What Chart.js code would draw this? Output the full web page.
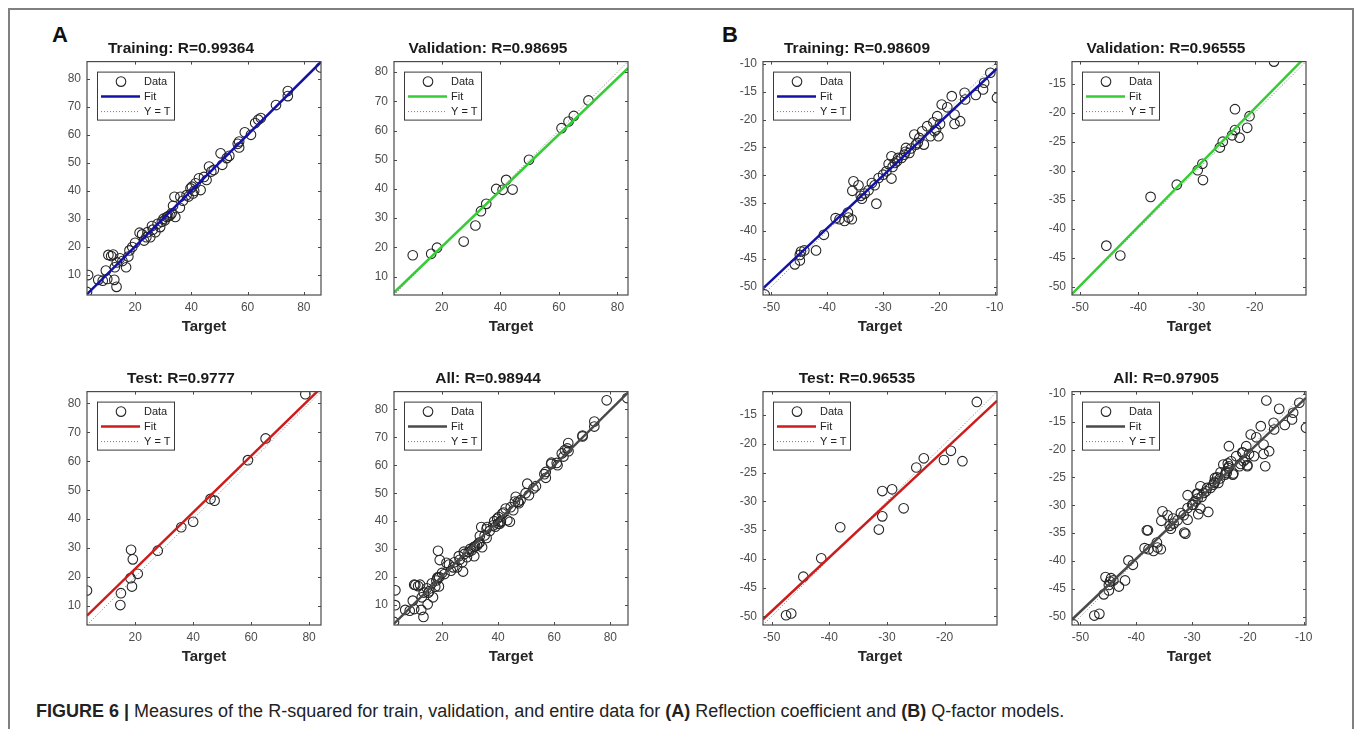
<!DOCTYPE html>
<html>
<head>
<meta charset="utf-8">
<script src="https://cdn.jsdelivr.net/npm/chart.js@4.4.1/dist/chart.umd.min.js"></script>
<style>
  html,body{margin:0;padding:0;background:#fff;}
  body{width:1357px;height:729px;overflow:hidden;position:relative;font-family:"Liberation Sans",Arial,sans-serif;}
  #frame{position:absolute;left:8px;top:8px;width:1342px;height:740px;border:2px solid #808080;border-bottom:none;}
  .plabel{position:absolute;font-weight:bold;font-size:22px;line-height:22px;color:#111;}
  #caption{position:absolute;left:36px;top:701px;font-family:"Liberation Sans Narrow","Liberation Sans",Arial,sans-serif;font-size:18px;color:#222;white-space:nowrap;}
  canvas{position:absolute;}
</style>
</head>
<body>
<div id="frame"></div>
<div class="plabel" style="left:52px;top:24px;">A</div>
<div class="plabel" style="left:722px;top:24px;">B</div>
<div id="caption"><b>FIGURE 6 |</b> Measures of the R-squared for train, validation, and entire data for <b>(A)</b> Reflection coefficient and <b>(B)</b> Q-factor models.</div>
<script>
// ---------------- DATA ----------------
// (A) Reflection coefficient model
const aTrainTarget = [2.9,3.3,6.9,8.5,10.1,12.6,13.4,9.6,10.5,12.2,11.5,12.8,14.6,13.5,16.8,17.6,18.0,19.0,20.0,21.6,23.2,22.5,24.0,24.4,25.4,26.3,26.0,27.2,28.0,28.9,29.5,30.1,30.5,31.3,31.8,32.5,33.0,33.5,34.3,35.9,34.0,36.1,37.0,38.3,39.0,39.7,40.2,40.6,41.0,41.5,42.7,43.3,44.5,45.4,46.3,47.1,48.0,50.4,51.0,52.6,53.5,56.5,57.0,57.0,59.0,61.2,62.7,63.8,64.7,70.1,74.3,74.3,86.0,15.5];
const aTrainOutput = [4.0,10.0,8.3,8.0,8.6,8.3,5.8,11.6,17.2,17.3,16.8,12.8,16.0,14.5,12.8,16.6,18.8,20.0,21.5,25.1,22.3,24.5,23.5,25.3,23.5,26.2,27.5,25.3,28.3,27.1,29.0,30.1,29.5,30.7,31.0,31.3,32.0,34.7,30.7,34.0,37.9,37.9,36.5,38.5,38.0,40.9,41.5,39.1,40.0,42.7,44.5,40.3,45.0,43.9,48.7,46.9,47.5,53.4,49.3,51.7,52.5,56.8,57.6,55.5,60.9,60.0,64.2,65.4,66.0,70.6,75.6,73.8,84.0,15.0];
const aValTarget = [10.1,16.4,18.4,27.5,31.5,33.4,35.2,38.6,40.8,42.0,44.2,49.8,60.9,63.3,65.1,70.1];
const aValOutput = [17.3,17.8,19.9,22.0,27.5,32.4,34.9,40.0,39.7,43.1,39.8,50.0,60.8,63.1,65.0,70.3];
const aTestTarget = [3.4,15.1,14.9,18.6,19.2,18.4,18.9,20.9,27.8,35.9,40.0,46.0,47.4,58.9,65.0,78.7];
const aTestOutput = [15.3,14.4,10.3,29.4,26.1,19.6,16.7,21.1,29.1,37.2,39.1,47.0,46.4,60.4,67.9,83.2];

// (B) Q-factor model
const bTrainTarget = [-51.2,-45.8,-44.9,-44.9,-44.7,-44.1,-42.0,-40.6,-38.5,-37.8,-36.9,-36.2,-35.6,-36.3,-35.5,-35.3,-34.4,-34.0,-33.8,-33.3,-32.6,-32.0,-31.5,-31.2,-30.8,-30.0,-29.4,-29.0,-28.5,-28.3,-28.5,-27.9,-27.5,-27.3,-26.7,-26.2,-26.0,-25.9,-25.3,-25.0,-24.4,-24.1,-23.8,-23.5,-23.0,-22.7,-22.1,-21.5,-21.0,-20.8,-20.5,-20.3,-20.1,-19.8,-19.5,-18.5,-17.7,-17.2,-17.2,-16.2,-15.4,-15.3,-13.4,-12.1,-11.9,-10.8,-9.6];
const bTrainOutput = [-51.4,-46.0,-44.3,-45.3,-43.7,-43.5,-43.5,-40.7,-37.7,-37.9,-38.2,-37.6,-37.9,-36.7,-32.8,-31.1,-31.8,-33.7,-34.2,-33.3,-32.7,-31.4,-31.8,-35.1,-30.5,-29.9,-29.3,-28.0,-30.6,-28.5,-26.6,-27.8,-27.5,-26.9,-26.9,-26.3,-25.8,-25.1,-26.0,-25.2,-22.7,-24.5,-24.2,-23.3,-22.1,-24.5,-21.2,-23.0,-20.5,-22.1,-21.8,-19.4,-23.0,-20.8,-17.3,-17.8,-15.8,-19.1,-20.8,-20.3,-15.2,-16.4,-15.6,-14.6,-13.4,-11.6,-16.1];
const bValTarget = [-16.7,-45.5,-43.1,-37.9,-33.4,-29.8,-29.0,-28.9,-26.0,-25.5,-23.9,-23.4,-23.4,-22.6,-21.3,-20.9];
const bValOutput = [-11.2,-42.9,-44.6,-34.5,-32.4,-29.9,-28.8,-31.6,-26.0,-25.0,-23.9,-23.0,-19.4,-24.3,-22.6,-20.6];
const bTestTarget = [-14.4,-47.5,-46.6,-44.5,-41.4,-38.1,-31.4,-30.8,-30.8,-29.1,-27.1,-24.9,-23.6,-20.1,-18.9,-16.9];
const bTestOutput = [-12.7,-49.8,-49.5,-43.1,-39.9,-34.5,-34.9,-32.6,-28.2,-27.9,-31.2,-24.1,-22.5,-22.8,-21.2,-23.0];

// panel order: A train, A val, A test, A all, B train, B val, B test, B all
const panelTitles = ['Training: R=0.99364','Validation: R=0.98695','Test: R=0.9777','All: R=0.98944',
                     'Training: R=0.98609','Validation: R=0.96555','Test: R=0.96535','All: R=0.97905'];
const axisMin = [2.9, 3.7, 3.4, 2.9, -51.5, -51.4, -51.5, -51.5];
const axisMax = [86.1, 83.6, 84.1, 86.3, -9.6, -11.2, -10.9, -9.6];
const fitSlope = [0.995, 0.961, 0.976, 0.99, 0.942, 1.018, 0.936, 0.95];
const fitIntercept = [0.3, 1.0, 3.3, 0.5, -1.8, 1.1, -2.3, -1.6];

const aTicks = [10,20,30,40,50,60,70,80];
const aXTicks = [20,40,60,80];
const bTicksFull = [-50,-45,-40,-35,-30,-25,-20,-15,-10];
const bTicksShort = [-50,-45,-40,-35,-30,-25,-20,-15];
const bXTicksFull = [-50,-40,-30,-20,-10];
const bXTicksShort = [-50,-40,-30,-20];

// ---------------- PANEL SETUP ----------------
const aAllTarget = aTrainTarget.concat(aValTarget, aTestTarget);
const aAllOutput = aTrainOutput.concat(aValOutput, aTestOutput);
const bAllTarget = bTrainTarget.concat(bValTarget, bTestTarget);
const bAllOutput = bTrainOutput.concat(bValOutput, bTestOutput);

const targets = [aTrainTarget, aValTarget, aTestTarget, aAllTarget, bTrainTarget, bValTarget, bTestTarget, bAllTarget];
const outputs = [aTrainOutput, aValOutput, aTestOutput, aAllOutput, bTrainOutput, bValOutput, bTestOutput, bAllOutput];
const xTickSets = [aXTicks, aXTicks, aXTicks, aXTicks, bXTicksFull, bXTicksShort, bXTicksShort, bXTicksFull];
const yTickSets = [aTicks, aTicks, aTicks, aTicks, bTicksFull, bTicksShort, bTicksShort, bTicksFull];

const fitColors = ['#1212a8','#35cc35','#cc1c1c','#4a4a4a','#1212a8','#35cc35','#cc1c1c','#4a4a4a'];
const boxLeft = [87, 394, 87, 394, 763, 1072, 763, 1072];
const boxTop  = [61, 61, 391, 391, 61, 61, 391, 391];
const BOX = 234, SIDE = 46, TOPPAD = 30, BOTPAD = 45;

const FONT = '"Liberation Sans", Arial, sans-serif';
const AXIS_COLOR = '#4a4a4a';

const matlabAxes = {
  id: 'matlabAxes',
  afterDatasetsDraw(chart) {
    const {ctx, chartArea: {left, right, top, bottom}, scales: {x, y}} = chart;
    ctx.save();
    ctx.strokeStyle = AXIS_COLOR;
    ctx.lineWidth = 1.2;
    ctx.strokeRect(left, top, right - left, bottom - top);
    ctx.lineWidth = 1;
    ctx.beginPath();
    x.ticks.forEach(t => {
      const px = Math.round(x.getPixelForValue(t.value)) + 0.5;
      ctx.moveTo(px, bottom); ctx.lineTo(px, bottom - 3);
      ctx.moveTo(px, top); ctx.lineTo(px, top + 3);
    });
    y.ticks.forEach(t => {
      const py = Math.round(y.getPixelForValue(t.value)) + 0.5;
      ctx.moveTo(left, py); ctx.lineTo(left + 3, py);
      ctx.moveTo(right, py); ctx.lineTo(right - 3, py);
    });
    ctx.stroke();
    // legend
    const ds = chart.data.datasets;
    const lx = left + 10, ly = top + 10, lw = 77, lh = 48;
    ctx.fillStyle = '#fff';
    ctx.fillRect(lx, ly, lw, lh);
    ctx.strokeStyle = '#3a3a3a';
    ctx.lineWidth = 1;
    ctx.strokeRect(lx + 0.5, ly + 0.5, lw, lh);
    ctx.font = '11px ' + FONT;
    ctx.textBaseline = 'middle';
    ctx.fillStyle = '#222';
    const rows = [ly + 10, ly + 25, ly + 40];
    ctx.beginPath();
    ctx.strokeStyle = ds[0].borderColor;
    ctx.lineWidth = ds[0].pointBorderWidth;
    ctx.arc(lx + 24, rows[0], ds[0].pointRadius, 0, Math.PI * 2);
    ctx.stroke();
    ctx.fillText(ds[0].label, lx + 47, rows[0] + 0.5);
    ctx.beginPath();
    ctx.strokeStyle = ds[1].borderColor;
    ctx.lineWidth = ds[1].borderWidth;
    ctx.moveTo(lx + 4, rows[1]); ctx.lineTo(lx + 43, rows[1]);
    ctx.stroke();
    ctx.fillText(ds[1].label, lx + 47, rows[1] + 0.5);
    ctx.beginPath();
    ctx.strokeStyle = ds[2].borderColor;
    ctx.lineWidth = ds[2].borderWidth;
    ctx.setLineDash(ds[2].borderDash);
    ctx.moveTo(lx + 4, rows[2]); ctx.lineTo(lx + 43, rows[2]);
    ctx.stroke();
    ctx.setLineDash([]);
    ctx.fillText(ds[2].label, lx + 47, rows[2] + 0.5);
    ctx.restore();
  }
};

function makePanel(i) {
  const canvas = document.createElement('canvas');
  const w = SIDE * 2 + BOX, h = TOPPAD + BOX + BOTPAD;
  canvas.width = w; canvas.height = h;
  canvas.style.left = (boxLeft[i] - SIDE) + 'px';
  canvas.style.top = (boxTop[i] - TOPPAD) + 'px';
  canvas.style.width = w + 'px'; canvas.style.height = h + 'px';
  document.body.appendChild(canvas);

  const lo = axisMin[i], hi = axisMax[i];
  const pts = targets[i].map((t, k) => ({x: t, y: outputs[i][k]}));
  const fitPts = [lo, hi].map(v => ({x: v, y: fitSlope[i] * v + fitIntercept[i]}));
  const idPts = [lo, hi].map(v => ({x: v, y: v}));

  new Chart(canvas, {
    type: 'scatter',
    data: {
      datasets: [
        {label: 'Data', data: pts, pointStyle: 'circle', pointRadius: 4.8, pointHoverRadius: 4.8,
         pointBorderWidth: 1.1, borderColor: '#262626', backgroundColor: 'rgba(0,0,0,0)', order: 2},
        {label: 'Fit', data: fitPts, showLine: true, pointRadius: 0, borderColor: fitColors[i],
         borderWidth: 2.5, backgroundColor: fitColors[i], order: 0},
        {label: 'Y = T', data: idPts, showLine: true, pointRadius: 0, borderColor: '#7a7a7a',
         borderWidth: 1, borderDash: [1, 2], backgroundColor: '#7a7a7a', order: 1}
      ]
    },
    options: {
      responsive: false,
      animation: false,
      devicePixelRatio: 1,
      events: [],
      layout: {padding: {left: 0, right: SIDE, top: 0, bottom: 0}},
      plugins: {
        legend: {display: false},
        tooltip: {enabled: false},
        title: {display: true, text: panelTitles[i], color: '#1a1a1a',
                font: {family: FONT, size: 15.5, weight: 'bold', lineHeight: 1.2},
                padding: {top: 8, bottom: 4}}
      },
      scales: {
        x: {
          type: 'linear', min: lo, max: hi,
          afterBuildTicks: s => { s.ticks = xTickSets[i].map(v => ({value: v})); },
          afterFit: s => { s.height = BOTPAD; },
          grid: {display: false, drawTicks: false},
          border: {display: false},
          ticks: {padding: 5, color: '#4d4d4d', font: {family: FONT, size: 12}, autoSkip: false, maxRotation: 0},
          title: {display: true, text: 'Target', color: '#262626',
                  font: {family: FONT, size: 15, weight: 'bold', lineHeight: 1.2}, padding: {top: 0, bottom: 4}}
        },
        y: {
          type: 'linear', min: lo, max: hi,
          afterBuildTicks: s => { s.ticks = yTickSets[i].map(v => ({value: v})); },
          afterFit: s => { s.width = SIDE; },
          grid: {display: false, drawTicks: false},
          border: {display: false},
          ticks: {padding: 6, color: '#4d4d4d', font: {family: FONT, size: 12}, autoSkip: false}
        }
      }
    },
    plugins: [matlabAxes]
  });
}

for (let i = 0; i < 8; i++) makePanel(i);
</script>
</body>
</html>
